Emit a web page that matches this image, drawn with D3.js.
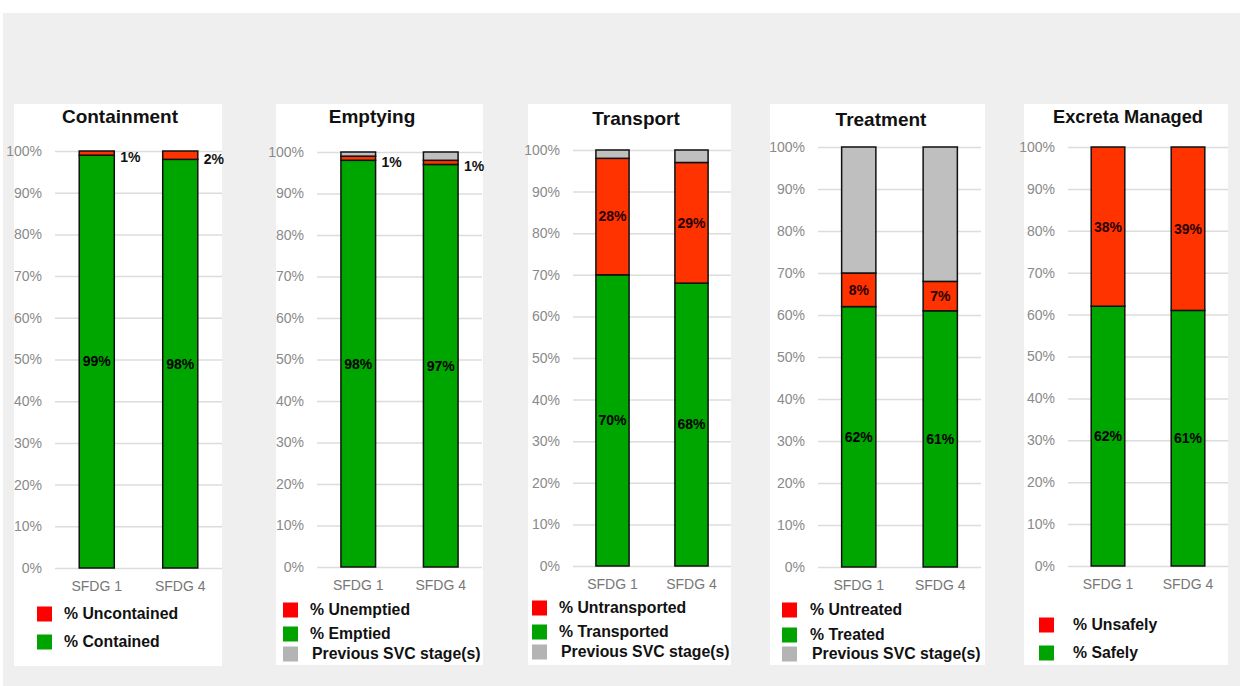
<!DOCTYPE html>
<html>
<head>
<meta charset="utf-8">
<script src="https://cdn.jsdelivr.net/npm/d3@7/dist/d3.min.js"></script>
<style>
  body { margin: 0; background: #ffffff; }
  svg { display: block; }
  .tick text { font-family: "Liberation Sans Narrow", "Liberation Sans", Arial, sans-serif; }
</style>
</head>
<body>
<svg id="chart" width="1240" height="686"></svg>
<script>
// ---- data -------------------------------------------------------------
const categories = ["SFDG 1", "SFDG 4"];
const pctTicks = [0, 10, 20, 30, 40, 50, 60, 70, 80, 90, 100];

const containedPct      = [99, 98];
const uncontainedPct    = [1, 2];

const emptiedPct        = [98, 97];
const unemptiedPct      = [1, 1];
const emptyingPrevPct   = [1, 2];

const transportedPct    = [70, 68];
const untransportedPct  = [28, 29];
const transportPrevPct  = [2, 3];

const treatedPct        = [62, 61];
const untreatedPct      = [8, 7];
const treatmentPrevPct  = [30, 32];

const safelyPct         = [62, 61];
const unsafelyPct       = [38, 39];

const panelTitles = ["Containment", "Emptying", "Transport", "Treatment", "Excreta Managed"];
const prevLabel = "Previous SVC stage(s)";

// ---- colours ----------------------------------------------------------
const barFill    = { good: "#00a600", bad: "#ff3300", prev: "#bfbfbf" };
const legendFill = { good: "#00a300", bad: "#ff0000", prev: "#b4b4b4" };
const labelFill  = { good: "#000000", bad: "#2a0000" };

// ---- panel definitions (stack order: bottom -> top) --------------------
const panels = [
  { title: panelTitles[0],
    series: [ { kind: "good", name: "% Contained", values: containedPct },
              { kind: "bad",  name: "% Uncontained", values: uncontainedPct } ] },
  { title: panelTitles[1],
    series: [ { kind: "good", name: "% Emptied", values: emptiedPct },
              { kind: "bad",  name: "% Unemptied", values: unemptiedPct },
              { kind: "prev", name: prevLabel, values: emptyingPrevPct } ] },
  { title: panelTitles[2],
    series: [ { kind: "good", name: "% Transported", values: transportedPct },
              { kind: "bad",  name: "% Untransported", values: untransportedPct },
              { kind: "prev", name: prevLabel, values: transportPrevPct } ] },
  { title: panelTitles[3],
    series: [ { kind: "good", name: "% Treated", values: treatedPct },
              { kind: "bad",  name: "% Untreated", values: untreatedPct },
              { kind: "prev", name: prevLabel, values: treatmentPrevPct } ] },
  { title: panelTitles[4],
    series: [ { kind: "good", name: "% Safely", values: safelyPct },
              { kind: "bad",  name: "% Unsafely", values: unsafelyPct } ] }
];

// ---- layout of each card ---------------------------------------------
const layout = [
  { box: [14, 104, 222, 666],  grid: [55, 222],   y: [568, 151], titleX: 120,  titleY: 123,
    legX: 37,   legTextX: 64,   legRows: [613, 641] },
  { box: [276, 104, 483, 665], grid: [317, 482],  y: [567, 152], titleX: 372,  titleY: 123,
    legX: 283,  legTextX: 310,  legRows: [609, 633, 653] },
  { box: [528, 104, 731, 665], grid: [573, 731],  y: [566, 150], titleX: 636,  titleY: 125,
    legX: 532,  legTextX: 559,  legRows: [607, 631, 651] },
  { box: [770, 104, 985, 665], grid: [818, 981],  y: [567, 147], titleX: 881,  titleY: 126,
    legX: 782,  legTextX: 810,  legRows: [609, 634, 653] },
  { box: [1024, 104, 1228, 665], grid: [1068, 1228], y: [566, 147], titleX: 1128, titleY: 123,
    legX: 1039, legTextX: 1073, legRows: [624, 652], titleLen: 150 }
];

const svg = d3.select("#chart");

// page backdrop
svg.append("rect").attr("x", 0).attr("y", 0).attr("width", 1240).attr("height", 686).attr("fill", "#ffffff");
svg.append("rect").attr("x", 3).attr("y", 13).attr("width", 1237).attr("height", 673).attr("fill", "#efefef");

panels.forEach((panel, pi) => {
  const L = layout[pi];
  const g = svg.append("g");

  // white card
  g.append("rect")
    .attr("x", L.box[0]).attr("y", L.box[1])
    .attr("width", L.box[2] - L.box[0]).attr("height", L.box[3] - L.box[1])
    .attr("fill", "#ffffff");

  const x = d3.scaleBand().domain(categories).range(L.grid)
    .paddingInner(0.58).paddingOuter(0.29);
  const y = d3.scaleLinear().domain([0, 100]).range(L.y);

  // y axis with gridlines
  const yAxis = d3.axisLeft(y).tickValues(pctTicks)
    .tickFormat(d => d + "%")
    .tickSizeInner(-(L.grid[1] - L.grid[0])).tickSizeOuter(0).tickPadding(13);
  const ya = g.append("g").attr("transform", `translate(${L.grid[0]},0)`).call(yAxis);
  ya.select(".domain").remove();
  ya.selectAll(".tick line").attr("stroke", "#dcdcdc").attr("stroke-width", 1.5);
  ya.selectAll(".tick text").attr("fill", "#8a8a8a").attr("font-size", 14);

  // x axis labels
  const xAxis = d3.axisBottom(x).tickSize(0).tickPadding(13);
  const xa = g.append("g").attr("transform", `translate(0,${L.y[0]})`).call(xAxis);
  xa.select(".domain").remove();
  xa.selectAll(".tick text")
    .attr("fill", "#777777").attr("font-size", 14)
    .attr("font-family", "'Liberation Sans', Arial, sans-serif");

  // stacked bars
  const stackData = categories.map((c, i) => {
    const row = { cat: c };
    panel.series.forEach(s => { row[s.kind] = s.values[i]; });
    return row;
  });
  const keys = panel.series.map(s => s.kind);
  const stacked = d3.stack().keys(keys)(stackData);

  stacked.forEach(layer => {
    const kind = layer.key;
    g.append("g").selectAll("rect").data(layer).join("rect")
      .attr("x", d => x(d.data.cat))
      .attr("width", x.bandwidth())
      .attr("y", d => y(d[1]))
      .attr("height", d => y(d[0]) - y(d[1]))
      .attr("fill", barFill[kind])
      .attr("stroke", "#111111")
      .attr("stroke-width", 1.5);
  });

  // value labels
  stacked.forEach(layer => {
    const kind = layer.key;
    if (kind === "prev") return;
    g.append("g").selectAll("text").data(layer).join("text")
      .each(function (d) {
        const v = d[1] - d[0];
        const t = d3.select(this);
        const mid = (y(d[0]) + y(d[1])) / 2;
        if (v < 5) {
          t.attr("x", x(d.data.cat) + x.bandwidth() + 6)
           .attr("y", mid + 4)
           .attr("text-anchor", "start")
           .attr("dy", "0.35em")
           .attr("fill", "#111111");
        } else {
          t.attr("x", x(d.data.cat) + x.bandwidth() / 2)
           .attr("y", mid)
           .attr("text-anchor", "middle")
           .attr("dy", "0.35em")
           .attr("fill", labelFill[kind]);
        }
        t.text(v + "%");
      })
      .attr("font-family", "'Liberation Sans Narrow', 'Liberation Sans', Arial, sans-serif")
      .attr("font-weight", "bold")
      .attr("font-size", 14);
  });

  // title
  const title = g.append("text")
    .attr("x", L.titleX).attr("y", L.titleY)
    .attr("text-anchor", "middle")
    .attr("font-family", "'Liberation Sans', Arial, sans-serif")
    .attr("font-weight", "bold").attr("font-size", 19)
    .attr("fill", "#111111")
    .text(panel.title);
  if (L.titleLen) title.attr("textLength", L.titleLen).attr("lengthAdjust", "spacingAndGlyphs");

  // legend: bad, good, then previous stage
  const legendOrder = ["bad", "good", "prev"]
    .map(k => panel.series.find(s => s.kind === k))
    .filter(Boolean);
  legendOrder.forEach((s, i) => {
    const cy = L.legRows[i];
    g.append("rect")
      .attr("x", L.legX).attr("y", cy - 6.5)
      .attr("width", 15).attr("height", 15)
      .attr("fill", legendFill[s.kind]);
    g.append("text")
      .attr("x", L.legTextX + (s.kind === "prev" ? 2 : 0)).attr("y", cy)
      .attr("dy", "0.35em")
      .attr("font-family", "'Liberation Sans', Arial, sans-serif")
      .attr("font-weight", "bold")
      .attr("font-size", 15.8)
      .attr("fill", "#111111")
      .text(s.name);
  });
});
</script>
</body>
</html>
